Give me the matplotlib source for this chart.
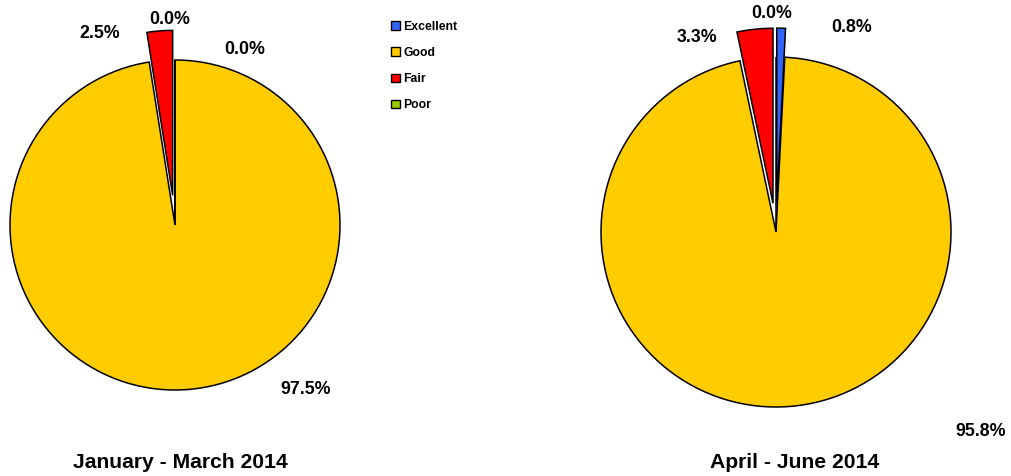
import matplotlib
matplotlib.use("Agg")
import matplotlib.pyplot as plt
from matplotlib.patches import Patch

plt.rcParams['font.family'] = ['Liberation Sans', 'DejaVu Sans']

categories = ["Excellent", "Good", "Fair", "Poor"]
colors = ["#3366FF", "#FFCC00", "#FF0000", "#99CC00"]
titles = ["January - March 2014", "April - June 2014"]
q1_values = [0.0, 97.5, 2.5, 0.0]
q2_values = [0.8, 95.8, 3.3, 0.0]

W, H = 1011, 476
fig = plt.figure(figsize=(W / 100, H / 100), dpi=100)

# layout (pixels): center x, center y, radius, explode per slice
pies = [
    dict(vals=q1_values, cx=175, cy=225, r=165, explode=[0.0, 0.0, 0.18, 0.0],
         label_pos=[(245, 49), (306, 390), (100, 34), (170, 19)],
         title_pos=(180, 462)),
    dict(vals=q2_values, cx=776, cy=232, r=175, explode=[0.165, 0.0, 0.165, 0.0],
         label_pos=[(852, 27), (981, 432), (697, 38), (772, 14)],
         title_pos=(795, 462)),
]

for p, title in zip(pies, titles):
    S = p['r'] + 40
    ax = fig.add_axes([(p['cx'] - S) / W, (H - p['cy'] - S) / H, 2 * S / W, 2 * S / H])
    lim = S / p['r']
    wedges, texts, autotexts = ax.pie(
        p['vals'], colors=colors, startangle=90, counterclock=False,
        explode=p['explode'], autopct='%1.1f%%',
        wedgeprops=dict(edgecolor='black', linewidth=1.1),
        textprops=dict(fontsize=12.8, fontweight='bold', color='black'))
    for w in wedges:
        w.set_clip_on(False)
    ax.set_xlim(-lim, lim)
    ax.set_ylim(-lim, lim)
    ax.set_aspect('auto')
    ax.axis('off')
    for t, v, (x, y) in zip(autotexts, p['vals'], p['label_pos']):
        t.set_text(f"{v:.1f}%")
        t.set_transform(fig.transFigure)
        t.set_position((x / W, 1 - y / H))
        t.set_ha('center')
        t.set_va('center')
        t.set_clip_on(False)
    fig.text(p['title_pos'][0] / W, 1 - p['title_pos'][1] / H, title,
             ha='center', va='center', fontsize=15.2, fontweight='bold')

handles = [Patch(facecolor=c, edgecolor='black', linewidth=1.0) for c in colors]
leg = fig.legend(handles, categories, loc='upper left',
                 bbox_to_anchor=(391 / W, 1 - 21 / H), frameon=False,
                 prop=dict(size=8.8, weight='bold'),
                 handlelength=0.7, handleheight=0.7, handletextpad=0.3,
                 labelspacing=1.15, borderaxespad=0, borderpad=0)

fig.savefig("out.png", dpi=100)
